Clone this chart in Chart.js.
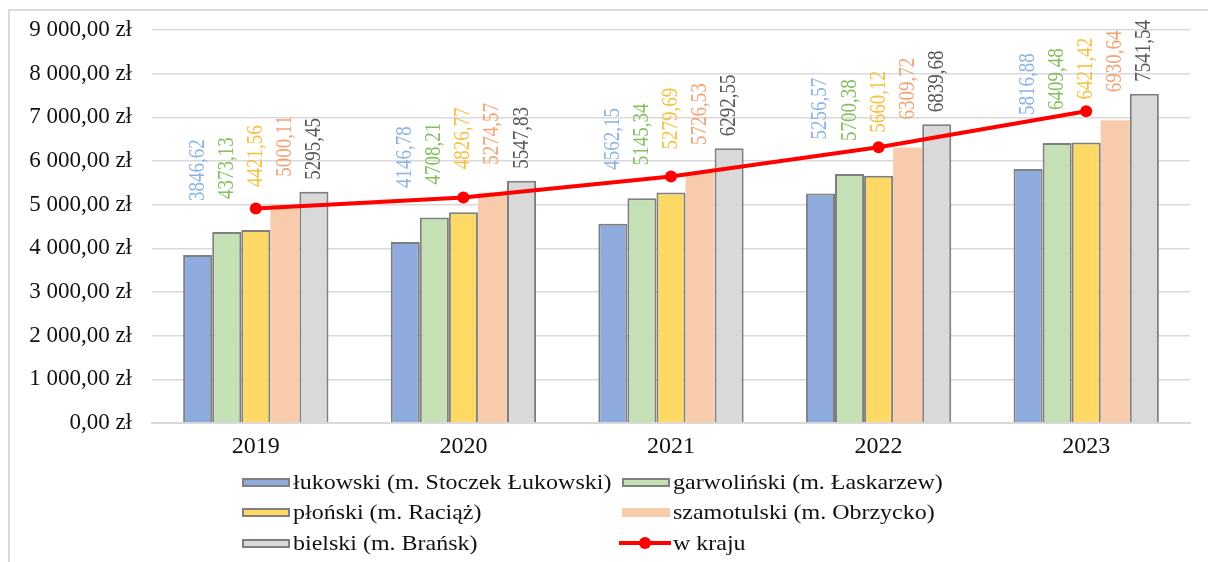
<!DOCTYPE html>
<html lang="pl">
<head>
<meta charset="utf-8">
<script src="https://cdn.jsdelivr.net/npm/chart.js@4.4.1/dist/chart.umd.min.js"></script>
<style>
  body { margin: 0; background: #fff; width: 1208px; height: 562px; overflow: hidden; position: relative; font-family: "Liberation Serif", serif; }
  #frame { position: absolute; left: 8px; top: 9px; width: 1210px; height: 560px; border-left: 2px solid #d9d9d9; border-top: 2px solid #d9d9d9; }
  #wrap { position: absolute; left: 10px; top: 10px; width: 1198px; height: 552px; }
  .lg { position: absolute; display: flex; align-items: center; font-size: 22px; color: #111; white-space: nowrap; }
  .lg .tx { display: inline-block; transform: scaleX(1.09); transform-origin: left center; }
  .lg .sw { width: 44px; height: 5px; margin-right: 3px; border: 2px solid #7f7f7f; }
  .lg .ln { width: 52px; height: 4px; background: #ff0000; margin-right: 2px; position: relative; }
  .lg .ln::after { content: ""; position: absolute; left: 20px; top: -4px; width: 12px; height: 12px; border-radius: 6px; background: #ff0000; }
</style>
</head>
<body>
<div id="frame"></div>
<div id="wrap"><canvas id="myChart" width="1198" height="552"></canvas></div>
<div id="legend"></div>
<script>
// dane z wykresu
const years = ['2019', '2020', '2021', '2022', '2023'];
const lukowski = [3846.62, 4146.78, 4562.15, 5256.57, 5816.88];
const garwolinski = [4373.13, 4708.21, 5145.34, 5700.38, 6409.48];
const plonski = [4421.56, 4826.77, 5279.69, 5660.12, 6421.42];
const szamotulski = [5000.11, 5274.57, 5726.53, 6309.72, 6930.64];
const bielski = [5295.45, 5547.83, 6292.55, 6839.68, 7541.54];
const wKraju = [4913, 5165, 5647, 6313, 7139];

function fmtNum(v) {
    const parts = v.toFixed(2).split('.');
    return parts[0].replace(/\B(?=(\d{3})+(?!\d))/g, ' ') + ',' + parts[1];
}

// pionowe etykiety nad słupkami
const rotLabels = {
    id: 'rotLabels',
    afterDatasetsDraw(chart) {
        const ctx = chart.ctx;
        chart.data.datasets.forEach((ds, i) => {
            if (ds.type !== 'bar') return;
            const meta = chart.getDatasetMeta(i);
            meta.data.forEach((bar, j) => {
                ctx.save();
                ctx.translate(bar.x, bar.y - ds.labelGap);
                ctx.rotate(-Math.PI / 2);
                ctx.scale(1, 1.2);
                ctx.font = '19px "Liberation Serif"';
                ctx.fillStyle = ds.labelColor;
                ctx.textAlign = 'left';
                ctx.textBaseline = 'middle';
                ctx.fillText(ds.data[j].toFixed(2).replace('.', ','), 0, 0);
                ctx.restore();
            });
        });
    }
};

const barBorder = '#7f7f7f';
const ctx = document.getElementById('myChart').getContext('2d');
const myChart = new Chart(ctx, {
    type: 'bar',
    data: {
        labels: years,
        datasets: [
            { type: 'line', label: 'w kraju', data: wKraju, borderColor: '#ff0000', backgroundColor: '#ff0000',
              borderWidth: 4, pointRadius: 6, pointBackgroundColor: '#ff0000', pointBorderWidth: 0, order: 0 },
            { type: 'bar', label: 'łukowski (m. Stoczek Łukowski)', data: lukowski, backgroundColor: '#8faadc',
              borderColor: barBorder, borderWidth: 2, labelColor: '#8db3e2', labelGap: 54, order: 1 },
            { type: 'bar', label: 'garwoliński (m. Łaskarzew)', data: garwolinski, backgroundColor: '#c5e0b4',
              borderColor: barBorder, borderWidth: 2, labelColor: '#86bf60', labelGap: 33, order: 1 },
            { type: 'bar', label: 'płoński (m. Raciąż)', data: plonski, backgroundColor: '#ffd966',
              borderColor: barBorder, borderWidth: 2, labelColor: '#f6c040', labelGap: 43, order: 1 },
            { type: 'bar', label: 'szamotulski (m. Obrzycko)', data: szamotulski, backgroundColor: '#f8cbad',
              borderWidth: 0, labelColor: '#f0a474', labelGap: 28, order: 1 },
            { type: 'bar', label: 'bielski (m. Brańsk)', data: bielski, backgroundColor: '#d9d9d9',
              borderColor: barBorder, borderWidth: 2, labelColor: '#595959', labelGap: 12, order: 1 }
        ]
    },
    options: {
        responsive: false,
        animation: false,
        layout: { padding: { top: 20, right: 18, bottom: 99, left: 0 } },
        datasets: { bar: { categoryPercentage: 0.7, barPercentage: 1.0, borderSkipped: 'bottom' } },
        plugins: { legend: { display: false }, tooltip: { enabled: false } },
        scales: {
            x: {
                grid: { display: false },
                border: { color: '#d9d9d9', width: 2 },
                ticks: { color: '#111', font: { family: 'Liberation Serif', size: 24 }, padding: 1 },
                afterFit(scale) { scale.height = 40; }
            },
            y: {
                min: 0, max: 9000,
                grid: { color: '#d9d9d9', lineWidth: 1.5, drawTicks: false },
                border: { display: false },
                ticks: { stepSize: 1000, color: '#111', padding: 20,
                         font: { family: 'Liberation Serif', size: 23 },
                         callback: v => fmtNum(v) + ' zł' },
                afterFit(scale) {
                    scale.width = 142;
                    scale.paddingTop = 0;
                    scale.paddingBottom = 0;
                }
            }
        }
    },
    plugins: [rotLabels]
});

// legenda w dwóch kolumnach
const legendPos = [
    { ds: 1, x: 242, y: 482 }, { ds: 2, x: 622, y: 482 },
    { ds: 3, x: 242, y: 512 }, { ds: 4, x: 622, y: 512 },
    { ds: 5, x: 242, y: 543 }, { ds: 0, x: 619, y: 543 }
];
const legendEl = document.getElementById('legend');
legendPos.forEach(p => {
    const ds = myChart.data.datasets[p.ds];
    const item = document.createElement('div');
    item.className = 'lg';
    item.style.left = p.x + 'px';
    item.style.top = (p.y - 14) + 'px';
    item.style.height = '28px';
    const mark = document.createElement('span');
    if (ds.type === 'line') {
        mark.className = 'ln';
    } else {
        mark.className = 'sw';
        mark.style.background = ds.backgroundColor;
        if (!ds.borderWidth) mark.style.borderColor = ds.backgroundColor;
    }
    const txt = document.createElement('span');
    txt.className = 'tx';
    txt.textContent = ds.label;
    item.appendChild(mark);
    item.appendChild(txt);
    legendEl.appendChild(item);
});
</script>
</body>
</html>
